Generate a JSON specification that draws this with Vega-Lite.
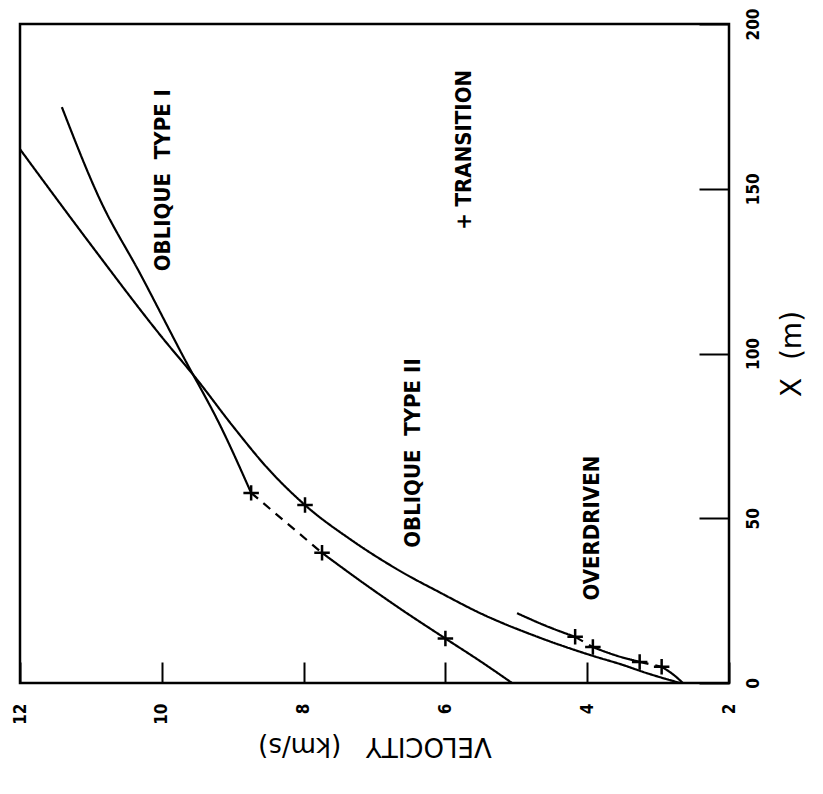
{
  "$schema": "https://vega.github.io/schema/vega-lite/v6.json",
  "width": 709,
  "height": 659,
  "autosize": {"type": "none"},
  "padding": {"left": 20, "top": 24, "right": 94, "bottom": 111},
  "background": "white",
  "config": {
    "view": {"stroke": "black", "strokeWidth": 2.5},
    "font": "DejaVu Sans Condensed"
  },
  "datasets": {
    "curves": [
      {"part": "I_a", "style": "solid", "v": 11.41, "x": 174.8},
      {"part": "I_a", "style": "solid", "v": 10.87, "x": 146.6},
      {"part": "I_a", "style": "solid", "v": 10.3, "x": 124},
      {"part": "I_a", "style": "solid", "v": 9.72, "x": 100},
      {"part": "I_a", "style": "solid", "v": 9.15, "x": 77},
      {"part": "I_a", "style": "solid", "v": 8.74, "x": 57.7},
      {"part": "I_b", "style": "dashed", "v": 8.74, "x": 57.7},
      {"part": "I_b", "style": "dashed", "v": 7.74, "x": 39.5},
      {"part": "I_c", "style": "solid", "v": 7.74, "x": 39.5},
      {"part": "I_c", "style": "solid", "v": 7.2, "x": 31},
      {"part": "I_c", "style": "solid", "v": 6.6, "x": 22},
      {"part": "I_c", "style": "solid", "v": 6.0, "x": 13.5},
      {"part": "I_c", "style": "solid", "v": 5.5, "x": 6.5},
      {"part": "I_c", "style": "solid", "v": 5.06, "x": 0},
      {"part": "II", "style": "solid", "v": 12, "x": 162},
      {"part": "II", "style": "solid", "v": 11, "x": 133},
      {"part": "II", "style": "solid", "v": 10, "x": 105},
      {"part": "II", "style": "solid", "v": 9.5, "x": 92},
      {"part": "II", "style": "solid", "v": 9.0, "x": 78},
      {"part": "II", "style": "solid", "v": 8.5, "x": 65},
      {"part": "II", "style": "solid", "v": 7.98, "x": 54},
      {"part": "II", "style": "solid", "v": 7.3, "x": 43},
      {"part": "II", "style": "solid", "v": 6.6, "x": 33.5},
      {"part": "II", "style": "solid", "v": 6.08, "x": 27.5},
      {"part": "II", "style": "solid", "v": 5.51, "x": 21.2},
      {"part": "II", "style": "solid", "v": 4.7, "x": 14},
      {"part": "II", "style": "solid", "v": 3.96, "x": 8.5},
      {"part": "II", "style": "solid", "v": 3.5, "x": 5.5},
      {"part": "II", "style": "solid", "v": 3.16, "x": 3.0},
      {"part": "II", "style": "solid", "v": 2.69, "x": 0},
      {"part": "OD_a", "style": "solid", "v": 4.99, "x": 21.2},
      {"part": "OD_a", "style": "solid", "v": 4.6, "x": 17.5},
      {"part": "OD_a", "style": "solid", "v": 4.17, "x": 14.0},
      {"part": "OD_b", "style": "dashed", "v": 4.17, "x": 14.0},
      {"part": "OD_b", "style": "dashed", "v": 3.92, "x": 10.9},
      {"part": "OD_c", "style": "solid", "v": 3.92, "x": 10.9},
      {"part": "OD_c", "style": "solid", "v": 3.6, "x": 8.4},
      {"part": "OD_c", "style": "solid", "v": 3.26, "x": 6.4},
      {"part": "OD_d", "style": "dashed", "v": 3.26, "x": 6.4},
      {"part": "OD_d", "style": "dashed", "v": 2.95, "x": 4.9},
      {"part": "OD_e", "style": "solid", "v": 2.95, "x": 4.9},
      {"part": "OD_e", "style": "solid", "v": 2.8, "x": 2.8},
      {"part": "OD_e", "style": "solid", "v": 2.65, "x": 0}
    ],
    "markers": [
      {"v": 8.74, "x": 57.7},
      {"v": 7.74, "x": 39.5},
      {"v": 6.0, "x": 13.5},
      {"v": 7.98, "x": 54},
      {"v": 4.17, "x": 14.0},
      {"v": 3.92, "x": 10.9},
      {"v": 3.26, "x": 6.4},
      {"v": 2.95, "x": 4.9}
    ],
    "labels": [
      {"label": "OBLIQUE\u00a0\u00a0TYPE\u00a0I", "v": 9.98, "x": 152.6},
      {"label": "+ TRANSITION", "v": 5.74, "x": 161.8},
      {"label": "OBLIQUE\u00a0\u00a0TYPE\u00a0II", "v": 6.45, "x": 69.8},
      {"label": "OVERDRIVEN", "v": 3.93, "x": 47.0}
    ]
  },
  "encoding": {
    "x": {
      "field": "v",
      "type": "quantitative",
      "scale": {"domain": [2, 12], "reverse": true, "nice": false, "zero": false},
      "axis": {
        "title": "VELOCITY\u00a0\u00a0\u00a0(km/s)",
        "titleAngle": 180,
        "titleFont": "DejaVu Sans",
        "titleFontSize": 26,
        "titleFontWeight": "normal",
        "titleColor": "black",
        "titleBaseline": "middle",
        "titleY": 62,
        "values": [2, 4, 6, 8, 10, 12],
        "tickSize": -21,
        "tickWidth": 2,
        "tickColor": "black",
        "domain": false,
        "grid": false,
        "labelAngle": 270,
        "labelAlign": "right",
        "labelBaseline": "middle",
        "labelPadding": 41,
        "labelFontSize": 17,
        "labelFontWeight": "bold",
        "labelColor": "black",
        "labelFlush": false,
        "labelOverlap": false
      }
    },
    "y": {
      "field": "x",
      "type": "quantitative",
      "scale": {"domain": [0, 200], "nice": false},
      "axis": {
        "orient": "right",
        "title": "X\u00a0\u00a0(m)",
        "titleAngle": 270,
        "titleFont": "DejaVu Sans",
        "titleFontSize": 28,
        "titleFontWeight": "normal",
        "titleColor": "black",
        "titleBaseline": "middle",
        "titleX": 63,
        "values": [0, 50, 100, 150, 200],
        "tickSize": -30,
        "tickWidth": 2,
        "tickColor": "black",
        "domain": false,
        "grid": false,
        "labelAngle": 270,
        "labelAlign": "center",
        "labelBaseline": "top",
        "labelPadding": 46,
        "labelFontSize": 17,
        "labelFontWeight": "bold",
        "labelColor": "black",
        "labelFlush": false,
        "labelOverlap": false
      }
    }
  },
  "layer": [
    {
      "data": {"name": "curves"},
      "mark": {"type": "line", "color": "black", "strokeWidth": 2.2, "interpolate": "monotone"},
      "encoding": {
        "detail": {"field": "part"},
        "strokeDash": {
          "field": "style",
          "type": "nominal",
          "scale": {"domain": ["solid", "dashed"], "range": [[1, 0], [9, 7]]},
          "legend": null
        }
      }
    },
    {
      "data": {"name": "markers"},
      "mark": {
        "type": "point",
        "shape": "M-1,0L1,0M0,-1L0,1",
        "filled": false,
        "stroke": "black",
        "strokeWidth": 2.5,
        "size": 240,
        "opacity": 1
      }
    },
    {
      "data": {"name": "labels"},
      "mark": {
        "type": "text",
        "angle": 270,
        "align": "center",
        "baseline": "middle",
        "fontSize": 22,
        "fontWeight": "bold",
        "color": "black"
      },
      "encoding": {"text": {"field": "label"}}
    }
  ]
}
